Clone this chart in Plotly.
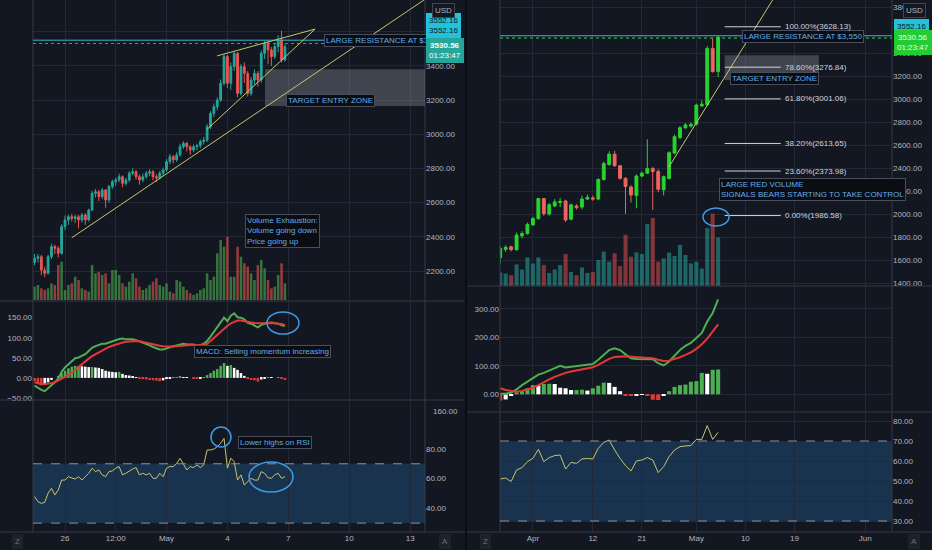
import pandas as pd
import plotly.graph_objects as go

# ---------------- left chart: ETHUSD 4h ----------------
left_open = [2250, 2275, 2284, 2206, 2187, 2284, 2343, 2333, 2304, 2460,
             2499, 2518, 2508, 2518, 2499, 2528, 2499, 2557, 2655, 2664,
             2635, 2674, 2616, 2694, 2723, 2733, 2752, 2713, 2733, 2772,
             2781, 2752, 2733, 2752, 2772, 2781, 2752, 2745, 2772, 2791,
             2840, 2869, 2850, 2879, 2927, 2947, 2927, 2908, 2927, 2935,
             2957, 2966, 3044, 3122, 3161, 3200, 3298, 3454, 3298, 3395,
             3473, 3239, 3395, 3356, 3239, 3317, 3356, 3317, 3473, 3532,
             3493, 3454, 3512, 3551, 3434]
left_high = [2300, 2300, 2295, 2225, 2295, 2360, 2355, 2345, 2475, 2525,
             2530, 2535, 2530, 2530, 2540, 2540, 2565, 2670, 2680, 2675,
             2685, 2680, 2705, 2735, 2745, 2770, 2760, 2745, 2785, 2800,
             2790, 2765, 2770, 2785, 2795, 2790, 2765, 2785, 2805, 2855,
             2885, 2880, 2895, 2945, 2960, 2955, 2935, 2940, 2945, 2970,
             2985, 3060, 3135, 3180, 3215, 3320, 3470, 3465, 3420, 3485,
             3480, 3410, 3420, 3370, 3335, 3380, 3370, 3490, 3545, 3545,
             3510, 3535, 3580, 3606, 3530]
left_low = [2235, 2250, 2175, 2165, 2180, 2270, 2300, 2280, 2295, 2440,
            2470, 2490, 2480, 2450, 2485, 2470, 2490, 2550, 2630, 2610,
            2620, 2570, 2600, 2680, 2700, 2720, 2690, 2700, 2720, 2760,
            2735, 2705, 2720, 2740, 2755, 2730, 2720, 2735, 2755, 2780,
            2825, 2830, 2840, 2870, 2915, 2900, 2880, 2895, 2905, 2920,
            2940, 2955, 3030, 3100, 3140, 3190, 3285, 3270, 3260, 3370,
            3215, 3225, 3300, 3220, 3225, 3290, 3280, 3300, 3440, 3410,
            3400, 3440, 3480, 3420, 3425]
left_close = [2275, 2284, 2206, 2187, 2284, 2343, 2333, 2304, 2460, 2499,
              2518, 2508, 2518, 2499, 2528, 2499, 2557, 2655, 2664, 2635,
              2674, 2616, 2694, 2723, 2733, 2752, 2713, 2733, 2772, 2781,
              2752, 2733, 2752, 2772, 2781, 2752, 2745, 2772, 2791, 2840,
              2869, 2850, 2879, 2927, 2947, 2927, 2908, 2927, 2935, 2957,
              2966, 3044, 3122, 3161, 3200, 3298, 3454, 3298, 3395, 3473,
              3239, 3395, 3356, 3239, 3317, 3356, 3317, 3473, 3532, 3493,
              3454, 3512, 3551, 3434, 3512]
left_volume = [40, 45, 35, 30, 35, 50, 45, 105, 115, 30,
               45, 50, 70, 60, 35, 30, 25, 105, 80, 85,
               75, 80, 50, 90, 90, 75, 50, 40, 55, 80,
               65, 40, 30, 35, 45, 55, 65, 45, 40, 50,
               25, 20, 60, 55, 40, 30, 20, 15, 20, 30,
               35, 80, 60, 70, 140, 180, 160, 190, 70, 70,
               160, 130, 110, 100, 80, 60, 105, 120, 95, 60,
               35, 40, 75, 110, 50]
left_macd = [-19, -25, -30, -33, -26, -18, -11, -2, 15, 26,
             34, 42, 49, 51, 55, 59, 67, 75, 79, 83,
             85, 85, 88, 91, 94, 97, 98, 96, 96, 96,
             94, 91, 88, 85, 81, 77, 74, 71, 71, 73,
             76, 79, 81, 84, 85, 83, 83, 83, 81, 81,
             85, 92, 103, 115, 125, 138, 150, 141, 155, 161,
             151, 150, 146, 137, 135, 130, 126, 132, 135, 137,
             138, 137, 135, 131, 129]
left_signal = [-11, -14, -16, -16, -15, -13, -11, -7, -3, 2,
               7, 13, 20, 27, 34, 43, 48, 54, 59, 64,
               69, 74, 77, 80, 83, 86, 88, 90, 91, 92,
               92, 91, 89, 88, 86, 84, 81, 80, 79, 78,
               78, 78, 79, 80, 81, 82, 82, 82, 81, 82,
               83, 85, 92, 100, 108, 116, 124, 130, 136, 140,
               143, 143, 141, 139, 138, 137, 136, 136, 137, 137,
               137, 136, 135, 134, 131]
left_hist = [-8, -14, -18, -17, -11, -5, 0, 5, 12, 18,
             24, 28, 30, 30, 29, 28, 27, 27, 26, 25,
             22, 18, 16, 15, 14, 15, 10, 7, 6, 4,
             2, -2, -3, -4, -5, -6, -7, -8, -6, -3,
             -1, 1, 2, 3, 2, 1, 0, -1, -2, -1,
             2, 7, 12, 18, 22, 30, 37, 30, 32, 25,
             20, 12, 5, -3, -5, -6, -9, -4, -2, 2,
             1, 0, 1, -3, -5]
left_rsi = [47.9, 44.5, 43.3, 44, 50.1, 53.5, 49, 52.3, 59, 59,
            61.3, 60.6, 59.7, 61.3, 59, 61.3, 63.6, 67, 64.7, 65.8,
            62.5, 61.3, 64.7, 65.2, 67, 68.1, 62.5, 63.6, 65.2, 66.5,
            67.4, 62.5, 63.6, 62.5, 63.6, 60.2, 60.2, 63.6, 61.3, 67,
            68.1, 68.1, 70.3, 73.7, 69.7, 65.8, 68.1, 67.4, 69.2, 67.4,
            69.2, 79.3, 79.3, 79.9, 81.5, 83.8, 87.1, 67, 73.7, 71.5,
            59, 62.5, 55.7, 58, 60.2, 59, 59, 64.7, 63.6, 60.6,
            60.2, 62.5, 63.6, 60.2, 61.3]
left_times = pd.date_range("2021-04-24 12:00", periods=len(left_close), freq="4h")

left_xticks = ["2021-04-26", "2021-04-28 12:00", "2021-05-01", "2021-05-04",
               "2021-05-07", "2021-05-10", "2021-05-13"]
left_xlabels = ["26", "12:00", "May", "4", "7", "10", "13"]
left_price_ticks = [2200, 2400, 2600, 2800, 3000, 3200, 3400, 3600]
left_macd_ticks = [-50, 0, 50, 100, 150]
left_rsi_ticks = [40, 60, 80]

# ---------------- right chart: ETHUSD 1D ----------------
right_open = [1620, 1693, 1715, 1690, 1810, 1830, 1905, 1960, 2135, 2000,
              2070, 2100, 2113, 1955, 2070, 2060, 2130, 2140, 2130, 2300,
              2430, 2520, 2420, 2310, 2235, 2160, 2330, 2355, 2395, 2370,
              2210, 2310, 2530, 2665, 2750, 2765, 2780, 2940, 2950, 3440, 3240]
right_high = [1720, 1730, 1725, 1840, 1850, 1925, 1975, 2140, 2140, 2095,
              2130, 2140, 2125, 2090, 2085, 2160, 2170, 2160, 2310, 2455,
              2545, 2550, 2425, 2320, 2250, 2345, 2370, 2650, 2410, 2390,
              2335, 2545, 2690, 2765, 2790, 2795, 2960, 2990, 3460, 3530, 3552]
right_low = [1570, 1670, 1675, 1680, 1790, 1820, 1900, 1950, 1985, 1985,
             2060, 2060, 1930, 1945, 2040, 2040, 2120, 2115, 2120, 2290,
             2420, 2410, 2300, 2000, 2100, 2050, 2320, 2350, 2035, 2190,
             2160, 2300, 2520, 2650, 2740, 2750, 2770, 2930, 2940, 3230, 3190]
right_close = [1700, 1710, 1690, 1817, 1830, 1910, 1960, 2135, 2005, 2080,
               2105, 2110, 1948, 2080, 2055, 2130, 2145, 2130, 2300, 2440,
               2520, 2420, 2310, 2240, 2165, 2330, 2355, 2395, 2370, 2215,
               2325, 2533, 2672, 2750, 2775, 2780, 2947, 2955, 3440, 3238, 3536]
right_volume = [40, 37, 32, 64, 49, 85, 67, 85, 62, 39,
                49, 62, 95, 42, 32, 55, 39, 42, 77, 102,
                72, 97, 59, 152, 87, 100, 95, 184, 202, 72,
                82, 99, 89, 122, 92, 67, 72, 52, 172, 215, 144]
right_macd = [2, 2, 6, 17, 32, 44, 57, 69, 75, 83,
              90, 100, 94, 96, 98, 100, 103, 106, 121, 138,
              155, 161, 155, 140, 126, 124, 124, 124, 123, 109,
              101, 115, 134, 155, 170, 180, 197, 215, 255, 285, 333]
right_signal = [21, 15, 12, 9, 12, 17, 23, 32, 43, 52,
                61, 69, 75, 80, 84, 87, 91, 95, 103, 115,
                124, 131, 133, 133, 132, 131, 130, 129, 126, 121,
                117, 118, 123, 130, 138, 147, 159, 175, 195, 218, 245]
right_hist = [-22, -18, -5, 7, 11, 21, 32, 31, 36, 37,
              36, 23, 21, 15, 15, 16, 13, 21, 30, 41,
              40, 26, 11, -5, -6, -3, -1, -4, -19, -20,
              -5, 11, 26, 32, 34, 44, 46, 75, 72, 86, 87]
right_rsi = [51, 51.5, 49.7, 55.5, 56.7, 59.7, 61.3, 65.8, 59.7, 61.7,
             62.7, 63, 56, 59.3, 58.8, 61, 61.3, 61, 66.3, 69.3,
             70.5, 65.5, 61.3, 57.7, 55, 60, 60.5, 61.7, 60.5, 54.2,
             57.2, 62.2, 65.5, 67.2, 67.5, 67.7, 70.8, 70.8, 77.7, 70.8, 74.3]
right_days = pd.date_range("2021-03-26", periods=len(right_close), freq="D")

right_xticks = ["2021-04-01", "2021-04-12", "2021-04-21", "2021-05-01",
                "2021-05-10", "2021-05-19", "2021-06-01"]
right_xlabels = ["Apr", "12", "21", "May", "10", "19", "Jun"]
right_price_ticks = [1400, 1600, 1800, 2000, 2200, 2400, 2600, 2800, 3000,
                     3200, 3400, 3800]
right_macd_ticks = [0, 100, 200, 300]
right_rsi_ticks = [30, 40, 50, 60, 70, 80]

fib_pct = [100.0, 78.6, 61.8, 38.2, 23.6, 0.0]
fib_price = [3628.13, 3276.84, 3001.06, 2613.65, 2373.98, 1986.58]

resistance = 3550
last_price = 3530.56
zone = [3165, 3380]

# ---------------- styling ----------------
BG = "#131722"
GRID = "#242834"
SEP = "#363a45"
TXT = "#b2b5be"
NOTE = "#62aeea"
FONT = "Liberation Sans Narrow, Liberation Sans, Arial, sans-serif"
W, H = 932, 550


def px(x):
    return x / W


def py(y):
    return 1 - y / H


def hist_colors(vals):
    out, prev = [], 0
    for v in vals:
        if v >= 0:
            out.append("#4caf50" if v >= prev else "#ffffff")
        else:
            out.append("#e53935" if v <= prev else "#ffffff")
        prev = v
    return out


def vol_colors(o, c, up, down):
    return [up if cc >= oo else down for oo, cc in zip(o, c)]


fig = go.Figure()

# left price + volume
fig.add_trace(go.Candlestick(
    x=left_times, open=left_open, high=left_high, low=left_low, close=left_close,
    increasing=dict(line=dict(color="#26a69a", width=1), fillcolor="#26a69a"),
    decreasing=dict(line=dict(color="#ef5350", width=1), fillcolor="#ef5350"),
    whiskerwidth=0, xaxis="x", yaxis="y"))
fig.add_trace(go.Bar(
    x=left_times, y=left_volume,
    marker=dict(color=vol_colors(left_open, left_close, "rgba(76,175,80,0.6)",
                                 "rgba(239,83,80,0.6)"), line_width=0),
    xaxis="x", yaxis="y2"))
# left MACD
fig.add_trace(go.Bar(x=left_times, y=left_hist,
                     marker=dict(color=hist_colors(left_hist), line_width=0),
                     xaxis="x2", yaxis="y3"))
fig.add_trace(go.Scatter(x=left_times, y=left_macd, mode="lines",
                         line=dict(color="#4caf50", width=2), xaxis="x2", yaxis="y3"))
fig.add_trace(go.Scatter(x=left_times, y=left_signal, mode="lines",
                         line=dict(color="#e53935", width=2), xaxis="x2", yaxis="y3"))
# left RSI
fig.add_trace(go.Scatter(x=left_times, y=left_rsi, mode="lines",
                         line=dict(color="#c8c46c", width=1), xaxis="x3", yaxis="y4"))

# right price + volume
fig.add_trace(go.Candlestick(
    x=right_days, open=right_open, high=right_high, low=right_low, close=right_close,
    increasing=dict(line=dict(color="#27d42f", width=1), fillcolor="#27d42f"),
    decreasing=dict(line=dict(color="#f0645f", width=1), fillcolor="#f0645f"),
    whiskerwidth=0, xaxis="x4", yaxis="y5"))
fig.add_trace(go.Bar(
    x=right_days, y=right_volume,
    marker=dict(color=vol_colors(right_open, right_close, "rgba(38,166,154,0.55)",
                                 "rgba(239,83,80,0.5)"), line_width=0),
    xaxis="x4", yaxis="y6"))
# right MACD
fig.add_trace(go.Bar(x=right_days, y=right_hist,
                     marker=dict(color=hist_colors(right_hist), line_width=0),
                     xaxis="x5", yaxis="y7"))
fig.add_trace(go.Scatter(x=right_days, y=right_macd, mode="lines",
                         line=dict(color="#4caf50", width=2), xaxis="x5", yaxis="y7"))
fig.add_trace(go.Scatter(x=right_days, y=right_signal, mode="lines",
                         line=dict(color="#e53935", width=2), xaxis="x5", yaxis="y7"))
# right RSI
fig.add_trace(go.Scatter(x=right_days, y=right_rsi, mode="lines",
                         line=dict(color="#c8c46c", width=1), xaxis="x6", yaxis="y8"))

LX = [px(33), px(425)]
RX = [px(500), px(892)]
base = dict(showgrid=True, gridcolor=GRID, gridwidth=1, zeroline=False, showline=False,
            ticks="", automargin=False, fixedrange=True,
            tickfont=dict(size=8, color=TXT, family=FONT))
left_range = ["2021-04-24 10:10", "2021-05-13 17:35"]
right_range = ["2021-03-25 23:00", "2021-06-05 22:00"]

layout_axes = dict(
    xaxis=dict(base, domain=LX, anchor="y", type="date", range=left_range,
               tickvals=left_xticks, showticklabels=False, rangeslider=dict(visible=False)),
    xaxis2=dict(base, domain=LX, anchor="y3", matches="x", tickvals=left_xticks,
                showticklabels=False),
    xaxis3=dict(base, domain=LX, anchor="y4", matches="x", tickvals=left_xticks,
                ticktext=left_xlabels),
    yaxis=dict(base, domain=[py(300), 1], anchor="x", side="right", range=[2031, 3785],
               tickvals=left_price_ticks, tickformat=".2f"),
    yaxis2=dict(domain=[py(300), 1], overlaying="y", range=[0, 900], visible=False,
                fixedrange=True),
    yaxis3=dict(base, domain=[py(400), py(302)], anchor="x2", side="left",
                range=[-55, 189], tickvals=left_macd_ticks, tickformat=".2f", showgrid=False),
    yaxis4=dict(base, domain=[py(532), py(400)], anchor="x3", side="right",
                range=[24, 113], tickvals=left_rsi_ticks, tickformat=".2f", showgrid=False),
    xaxis4=dict(base, domain=RX, anchor="y5", type="date", range=right_range,
                tickvals=right_xticks, showticklabels=False, rangeslider=dict(visible=False)),
    xaxis5=dict(base, domain=RX, anchor="y7", matches="x4", tickvals=right_xticks,
                showticklabels=False),
    xaxis6=dict(base, domain=RX, anchor="y8", matches="x4", tickvals=right_xticks,
                ticktext=right_xlabels),
    yaxis5=dict(base, domain=[py(286), 1], anchor="x4", side="right", range=[1374, 3861],
                tickvals=right_price_ticks, tickformat=".2f"),
    yaxis6=dict(domain=[py(286), 1], overlaying="y5", range=[0, 850], visible=False,
                fixedrange=True),
    yaxis7=dict(base, domain=[py(412), py(287)], anchor="x5", side="left",
                range=[-62, 376], tickvals=right_macd_ticks, tickformat=".2f"),
    yaxis8=dict(base, domain=[py(532), py(413)], anchor="x6", side="right",
                range=[24.5, 84], tickvals=right_rsi_ticks, tickformat=".2f"),
)

shapes = []


def pline(x0, y0, x1, y1, color=SEP, width=1):
    shapes.append(dict(type="line", xref="paper", yref="paper", x0=px(x0), y0=py(y0),
                       x1=px(x1), y1=py(y1), line=dict(color=color, width=width)))


# panel separators
for yy in (301, 400, 532):
    pline(0, yy, 466, yy)
for yy in (286, 412, 532):
    pline(466, yy, 932, yy)
for xx in (425, 33, 892, 500):
    pline(xx, 0, xx, 532)
pline(466, 0, 466, 550, color="#0a0c11", width=2)

# RSI bands
for xr, yr in (("x3", "y4"), ("x6", "y8")):
    shapes.append(dict(type="rect", xref=xr + " domain", yref=yr, x0=0, x1=1, y0=30, y1=70,
                       fillcolor="rgba(40,110,170,0.33)", line_width=0, layer="below"))
    for lvl in (30, 70):
        shapes.append(dict(type="line", xref=xr + " domain", yref=yr, x0=0, x1=1,
                           y0=lvl, y1=lvl, line=dict(color="#8d9099", width=1, dash="dash")))

# resistance + last price lines
for xr, yr, col in (("x", "y", "#26a69a"), ("x4", "y5", "#27d42f")):
    shapes.append(dict(type="line", xref=xr + " domain", yref=yr, x0=0, x1=1,
                       y0=resistance, y1=resistance, line=dict(color="#35b8d0", width=1)))
    shapes.append(dict(type="line", xref=xr + " domain", yref=yr, x0=0, x1=1,
                       y0=last_price, y1=last_price, line=dict(color=col, width=1, dash="dot")))

# target zones
shapes.append(dict(type="rect", xref="x", yref="y", x0="2021-05-05 20:25", x1=left_range[1],
                   y0=zone[0], y1=zone[1], fillcolor="rgba(150,153,164,0.35)", line_width=0))
shapes.append(dict(type="rect", xref="x4", yref="y5", x0="2021-05-06 05:00",
                   x1="2021-05-23 12:00", y0=zone[0], y1=zone[1],
                   fillcolor="rgba(150,153,164,0.35)", line_width=0))

# trend lines
YEL = "#c6c766"
for x0, y0, x1, y1 in (("2021-05-03 11:45", 3458, "2021-05-08 07:40", 3615),
                       ("2021-05-03 00:00", 3029, "2021-05-08 07:40", 3615),
                       ("2021-04-26 08:00", 2395, "2021-05-13 16:20", 3785)):
    shapes.append(dict(type="line", xref="x", yref="y", x0=x0, y0=y0, x1=x1, y1=y1,
                       line=dict(color=YEL, width=1)))
shapes.append(dict(type="line", xref="x4", yref="y5", x0="2021-04-25 23:00", y0=2409,
                   x1="2021-05-15 00:00", y1=3861, line=dict(color=YEL, width=1)))

# fib levels
for lvl in fib_price:
    shapes.append(dict(type="line", xref="x4", yref="y5", x0="2021-05-06 05:00",
                       x1="2021-05-16 12:00", y0=lvl, y1=lvl,
                       line=dict(color="#d1d4dc", width=1)))

# hand-drawn circles
for cx, cy, rx, ry in ((283, 323, 16, 11), (221, 437, 10, 10), (271, 477, 22, 15),
                       (716, 217, 13, 9)):
    shapes.append(dict(type="circle", xref="paper", yref="paper", x0=px(cx - rx),
                       x1=px(cx + rx), y0=py(cy + ry), y1=py(cy - ry),
                       line=dict(color="#3d9be9", width=1.5)))

annotations = []


def note(text, x, y, yanchor="middle", size=8):
    annotations.append(dict(text=text, xref="paper", yref="paper", x=px(x), y=py(y),
                            xanchor="left", yanchor=yanchor, showarrow=False, align="left",
                            font=dict(size=size, color=NOTE, family=FONT),
                            bgcolor="#0b0d13", bordercolor="#4a4e5a", borderwidth=1,
                            borderpad=1))


note("LARGE RESISTANCE AT $3,", 324, 40)
note("TARGET ENTRY ZONE", 286, 100)
note("Volume Exhaustion:<br>Volume going down<br>Price going up", 245, 214, "top")
note("MACD: Selling momentum increasing", 194, 351)
note("Lower highs on RSI", 238, 442)
note("LARGE RESISTANCE AT $3,550", 742, 37)
note("TARGET ENTRY ZONE", 730, 78)
note("LARGE RED VOLUME<br>SIGNALS BEARS STARTING TO TAKE CONTROL", 719, 178, "top")

for pct, lvl in zip(fib_pct, fib_price):
    annotations.append(dict(text=f"{pct:.2f}%({lvl:.2f})", xref="x4", yref="y5",
                            x="2021-05-16 20:00", y=lvl, xanchor="left", yanchor="middle",
                            showarrow=False, font=dict(size=8, color="#d1d4dc", family=FONT)))


def badge(text, x, y, bg, fg, size=8, border=None):
    annotations.append(dict(text=text, xref="paper", yref="paper", x=px(x), y=py(y),
                            xanchor="left", yanchor="middle", showarrow=False,
                            font=dict(size=size, color=fg, family=FONT), bgcolor=bg,
                            bordercolor=border or bg, borderwidth=1, borderpad=2))


badge("3552.16<br>3552.16", 426, 26, "#22c1dc", "#131722")
badge("<b>3530.56</b><br>01:23:47", 426, 50, "#26a69a", "#ffffff")
badge("USD", 432, 10, BG, TXT, border="#434651")
badge("160.00", 430, 411, BG, TXT)
badge("3552.16", 894, 27, "#22c1dc", "#131722")
badge("3530.56<br>01:23:47", 894, 43, "#22cc33", "#e8ffe8")
badge("USD", 903, 10, BG, TXT, border="#434651")
for x, t in ((12, "Z"), (439, "A"), (480, "Z"), (908, "A")):
    badge(t, x, 541, "#1e222d", "#6a6d78", size=8)

fig.update_layout(
    width=W, height=H, margin=dict(l=0, r=0, t=0, b=0),
    paper_bgcolor=BG, plot_bgcolor=BG, template="none",
    showlegend=False, hovermode=False, bargap=0.25, boxgap=0.25,
    font=dict(family=FONT, color=TXT, size=8),
    shapes=shapes, annotations=annotations,
    **layout_axes)

fig.write_html("out.html", config={"displayModeBar": False},
               post_script="document.body.style.margin='0';"
                           "document.body.style.background='#131722';")
